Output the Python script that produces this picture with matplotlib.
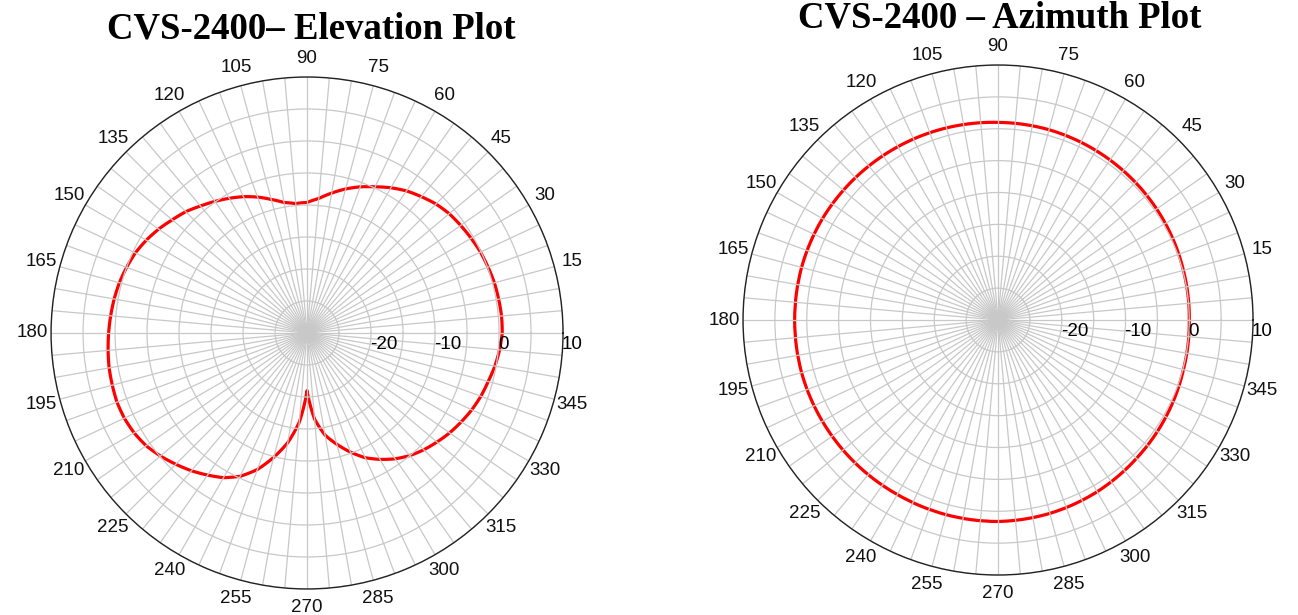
import numpy as np
import matplotlib
matplotlib.use("Agg")
import matplotlib.pyplot as plt
from matplotlib.path import Path
from matplotlib.patches import PathPatch
from matplotlib.transforms import ScaledTranslation

plt.rcParams['font.family'] = ['Liberation Sans', 'DejaVu Sans']

# elevation pattern, dB every 5 deg
elev_deg = list(range(0, 360, 5)) + [360]
elev_db = [0.5, 0.5, 0.4, 0.3, 0.1, -0.1, -0.4, -0.7, -1.0, -1.5, -2.2, -2.9,
           -3.8, -4.8, -5.7, -6.7, -7.8, -8.9, -9.6, -9.7, -9.3, -8.4, -7.4, -6.5,
           -5.7, -4.9, -4.1, -3.2, -2.5, -1.7, -1.0, -0.4, 0.0, 0.35, 0.6, 0.8,
           1.0, 1.2, 1.4, 1.5, 1.6, 1.5, 1.2, 0.7, -0.1, -1.0, -1.9, -2.9,
           -3.9, -5.3, -7.3, -9.9, -12.6, -16.0, -21.0, -16.5, -13.8, -12.0, -10.2, -8.5,
           -7.2, -6.0, -5.0, -4.2, -3.5, -2.8, -2.2, -1.6, -1.1, -0.7, -0.2, 0.2,
           0.5]

# azimuth pattern, dB every 15 deg
azim_deg = list(range(0, 360, 15)) + [360]
azim_db = [0.0, 0.1, 0.3, 0.5, 0.7, 0.9, 1.0, 1.2, 1.4, 1.6, 1.8, 1.9,
           1.9, 1.9, 1.8, 1.7, 1.6, 1.6, 1.6, 1.4, 1.1, 0.7, 0.4, 0.1,
           0.0]

ring_vals = [-25, -20, -15, -10, -5, 0, 5, 10]
ring_labels = ['-20', '-10', '0', '10']
ang_ticks = list(range(0, 360, 5))
titles = ['CVS-2400\u2013 Elevation Plot', 'CVS-2400 \u2013 Azimuth Plot']

fig = plt.figure(figsize=(12.98, 6.15), dpi=100)


def polar_panel(rect, deg, db):
    ax = fig.add_axes(rect, projection='polar')
    ax.set_theta_zero_location('E')
    ax.set_theta_direction(1)
    ax.set_ylim(-30, 10)
    labels = [str(a) if (a % 15 == 0 and a != 0) else '' for a in ang_ticks]
    ax.set_thetagrids(ang_ticks, labels)
    ax.set_rgrids(ring_vals, [''] * len(ring_vals))
    ax.grid(True, color='#c8c8c8', lw=0.9)
    ax.tick_params(axis='x', labelsize=13.5, pad=3, colors='#111111')
    ax.spines['polar'].set_color('#222222')
    ax.spines['polar'].set_linewidth(1.0)
    # pattern curve: polar transform draws it curved between samples
    verts = np.column_stack([np.deg2rad(deg), db])
    path = Path(verts, _interpolation_steps=30)
    ax.add_patch(PathPatch(path, transform=ax.transData, fill=False,
                           edgecolor='red', lw=2.3, joinstyle='round'))
    for lab in ring_labels:
        ax.text(0, float(lab), lab, fontsize=13.5, ha='left', va='top',
                transform=ax.transData + ScaledTranslation(
                    -1 / 100, -3 / 100, fig.dpi_scale_trans))
    return ax


polar_panel([0.0393, 0.0423, 0.3945, 0.8325], elev_deg, elev_db)
polar_panel([0.5724, 0.0650, 0.3930, 0.8293], azim_deg, azim_db)

fig.text(0.2395, 0.9366, titles[0], ha='center', va='baseline',
         family='Liberation Serif', weight='bold', fontsize=26.5)
fig.text(0.7705, 0.9545, titles[1], ha='center', va='baseline',
         family='Liberation Serif', weight='bold', fontsize=26.5)

fig.savefig('out.png', dpi=100)
